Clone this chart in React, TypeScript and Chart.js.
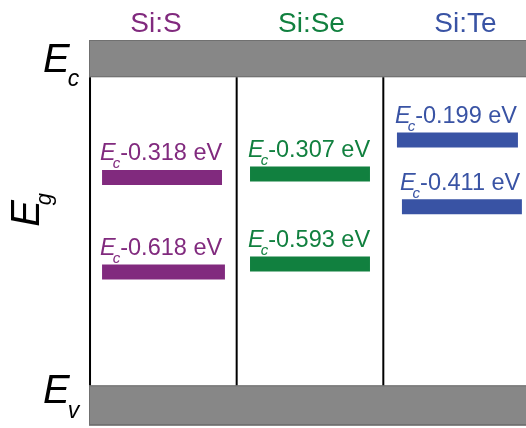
import React, { useEffect, useRef } from "react";
import { Chart, registerables } from "chart.js";

Chart.register(...registerables);

// Columns (dopants)
const COLUMNS = ["Si:S", "Si:Se", "Si:Te"];
const COLUMN_COLORS = ["#812a7e", "#11803f", "#3953a4"];
const TITLE_X = [0.45, 1.51, 2.56];
const SEPARATORS = [0, 1, 2];

// Deep levels, depth below Ec in eV
const LEVEL_COLUMN = [0, 0, 1, 1, 2, 2];
const LEVEL_DEPTH = [0.318, 0.618, 0.307, 0.593, 0.199, 0.411];
const LEVEL_START = [0.082, 0.082, 1.091, 1.091, 2.093, 2.127];
const LEVEL_END = [0.9, 0.92, 1.909, 1.909, 2.918, 2.945];
const LEVEL_LABELS = LEVEL_DEPTH.map((d) => `-${d.toFixed(3)} eV`);

// Band edges (schematic, eV below Ec)
const EC = 0;
const EV = 0.978;
const CB_TOP = -0.118;
const VB_BOTTOM = 1.107;

const FONT = "'Liberation Sans', Arial, sans-serif";

const decorPlugin = {
  id: "decor",
  beforeDatasetsDraw(chart: any) {
    const { ctx, chartArea, scales } = chart;
    const y = scales.y;
    const x0 = chartArea.left;
    const x1 = chartArea.right + 2;
    const cbTop = y.getPixelForValue(CB_TOP);
    const cbBot = y.getPixelForValue(EC);
    const vbTop = y.getPixelForValue(EV);
    const vbBot = y.getPixelForValue(VB_BOTTOM);
    ctx.save();
    ctx.fillStyle = "#878787";
    ctx.strokeStyle = "#707070";
    ctx.lineWidth = 1;
    ctx.fillRect(x0, cbTop, x1 - x0, cbBot - cbTop);
    ctx.strokeRect(x0 + 0.5, cbTop + 0.5, x1 - x0, cbBot - cbTop - 1);
    ctx.fillRect(x0, vbTop, x1 - x0, vbBot - vbTop);
    ctx.strokeRect(x0 + 0.5, vbTop + 0.5, x1 - x0, vbBot - vbTop - 2);
    ctx.restore();
  },
  afterDatasetsDraw(chart: any) {
    const { ctx, chartArea, scales } = chart;
    const x = scales.x;
    const y = scales.y;
    ctx.save();
    ctx.textBaseline = "alphabetic";

    // Column titles
    ctx.font = `28px ${FONT}`;
    ctx.textAlign = "center";
    COLUMNS.forEach((name, i) => {
      ctx.fillStyle = COLUMN_COLORS[i];
      ctx.fillText(name, x.getPixelForValue(TITLE_X[i]), chartArea.top - 8);
    });

    // Level labels
    ctx.textAlign = "left";
    LEVEL_DEPTH.forEach((d, i) => {
      const color = COLUMN_COLORS[LEVEL_COLUMN[i]];
      let px = x.getPixelForValue(LEVEL_START[i]) - 2;
      const py = y.getPixelForValue(d) - 17;
      ctx.fillStyle = color;
      ctx.font = `italic 23.5px ${FONT}`;
      ctx.fillText("E", px, py);
      px += ctx.measureText("E").width - 3;
      ctx.font = `italic 15px ${FONT}`;
      ctx.fillText("c", px, py + 8);
      px += ctx.measureText("c").width;
      ctx.font = `23.5px ${FONT}`;
      ctx.fillText(LEVEL_LABELS[i], px, py);
    });

    // Band labels
    ctx.fillStyle = "#000";
    const lx = chartArea.left - 46;
    const ecY = y.getPixelForValue(EC) - 5;
    ctx.font = `italic 40px ${FONT}`;
    ctx.fillText("E", lx, ecY);
    const w = ctx.measureText("E").width;
    ctx.font = `italic 23px ${FONT}`;
    ctx.fillText("c", lx + w - 2, ecY + 14);

    const evY = y.getPixelForValue(EV) + 18;
    ctx.font = `italic 40px ${FONT}`;
    ctx.fillText("E", lx, evY);
    ctx.font = `italic 23px ${FONT}`;
    ctx.fillText("v", lx + w - 2, evY + 15);

    // Eg rotated
    ctx.translate(chartArea.left - 50, y.getPixelForValue(0.475));
    ctx.rotate(-Math.PI / 2);
    ctx.font = `italic 40px ${FONT}`;
    ctx.fillText("E", 0, 0);
    ctx.font = `italic 22px ${FONT}`;
    ctx.fillText("g", w - 5, 12);
    ctx.restore();
  },
};

export default function App() {
  const ref = useRef<HTMLCanvasElement>(null);
  useEffect(() => {
    if (!ref.current) return;
    const datasets: any[] = [];
    SEPARATORS.forEach((s) => {
      datasets.push({
        data: [
          { x: s, y: EC },
          { x: s, y: EV },
        ],
        showLine: true,
        borderColor: "#000",
        borderWidth: 2,
        pointRadius: 0,
        borderCapStyle: "butt",
      });
    });
    LEVEL_DEPTH.forEach((d, i) => {
      datasets.push({
        data: [
          { x: LEVEL_START[i], y: d },
          { x: LEVEL_END[i], y: d },
        ],
        showLine: true,
        borderColor: COLUMN_COLORS[LEVEL_COLUMN[i]],
        borderWidth: 15,
        pointRadius: 0,
        borderCapStyle: "butt",
      });
    });
    const chart = new Chart(ref.current, {
      type: "scatter",
      data: { datasets },
      options: {
        animation: false,
        responsive: false,
        layout: { padding: { left: 89, top: 40, right: 0, bottom: 2 } },
        plugins: { legend: { display: false }, tooltip: { enabled: false } },
        scales: {
          x: { type: "linear", min: -0.007, max: 2.973, display: false },
          y: { type: "linear", min: CB_TOP, max: VB_BOTTOM, reverse: true, display: false },
        },
      },
      plugins: [decorPlugin],
    });
    return () => chart.destroy();
  }, []);
  return (
    <div style={{ position: "absolute", left: 0, top: 0 }}>
      <canvas ref={ref} width={526} height={428} style={{ display: "block" }} />
    </div>
  );
}
